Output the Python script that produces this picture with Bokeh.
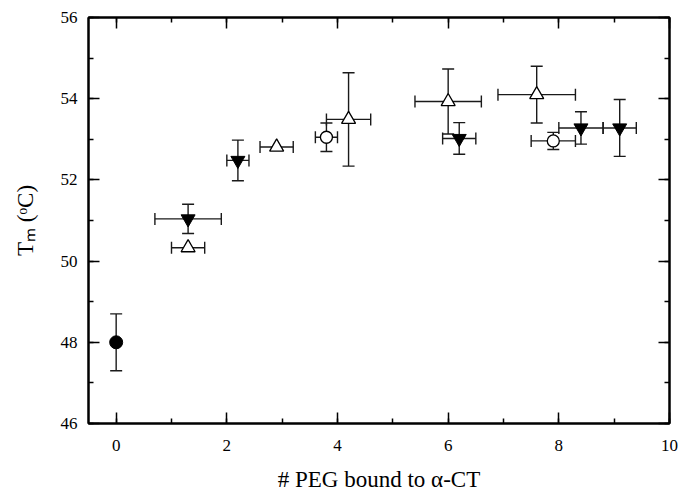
import math
from bokeh.plotting import figure
from bokeh.models import LinearAxis, SingleIntervalTicker, Range1d
from bokeh.embed import file_html
from bokeh.resources import INLINE

# ---- data ----
native_x = [0.0]
native_y = [48.0]
native_xerr = [0.0]
native_yerr = [0.7]

tri_dn_x = [1.3, 2.2, 6.2, 8.4, 9.1]
tri_dn_y = [51.04, 52.48, 53.02, 53.28, 53.28]
tri_dn_xerr = [0.6, 0.2, 0.3, 0.4, 0.3]
tri_dn_yerr = [0.36, 0.5, 0.39, 0.4, 0.7]

tri_up_x = [1.3, 2.9, 4.2, 6.0, 7.6]
tri_up_y = [50.33, 52.81, 53.49, 53.93, 54.1]
tri_up_xerr = [0.3, 0.3, 0.4, 0.6, 0.7]
tri_up_yerr = [0.0, 0.0, 1.15, 0.8, 0.7]

circ_x = [3.8, 7.9]
circ_y = [53.05, 52.96]
circ_xerr = [0.2, 0.4]
circ_yerr = [0.35, 0.21]

x_ticks_interval = 2
y_ticks_interval = 2
x_label = "# PEG bound to \u03b1-CT"
y_label = "T\u2098 (\u1d52C)"

FONT = "Liberation Serif"
W, H = 683, 497
BL, BR, BT, BB = 88, 14, 17, 74

p = figure(width=W, height=H, output_backend="svg", toolbar_location=None,
           x_range=Range1d(-0.5, 10), y_range=Range1d(46, 56),
           x_axis_location=None, y_axis_location=None,
           min_border_left=BL, min_border_right=BR, min_border_top=BT, min_border_bottom=BB)
p.grid.visible = False
p.outline_line_color = "black"
p.outline_line_width = 2
p.background_fill_color = "white"
p.border_fill_color = "white"

def make_axis(interval, labels):
    ax = LinearAxis(ticker=SingleIntervalTicker(interval=interval, num_minor_ticks=2))
    ax.axis_line_color = "black"
    ax.axis_line_width = 2
    ax.major_tick_in = 11
    ax.major_tick_out = 0
    ax.minor_tick_in = 5
    ax.minor_tick_out = 0
    ax.major_tick_line_width = 1.5
    ax.minor_tick_line_width = 1.5
    ax.major_tick_line_color = "black"
    ax.minor_tick_line_color = "black"
    if labels:
        ax.major_label_text_font = FONT
        ax.major_label_text_font_size = "17px"
        ax.major_label_text_color = "black"
        ax.axis_label_text_font = FONT
        ax.axis_label_text_font_style = "normal"
        ax.axis_label_text_color = "black"
    else:
        ax.major_label_text_font_size = "1px"
        ax.major_label_text_color = None
        ax.major_label_standoff = 0
    return ax

xb = make_axis(x_ticks_interval, True)
xb.major_label_standoff = 16
xb.axis_label = x_label
xb.axis_label_text_font_size = "23px"
xb.axis_label_standoff = 13
yl = make_axis(y_ticks_interval, True)
yl.major_label_standoff = 11
yl.axis_label = y_label
yl.axis_label_text_font_size = "23px"
yl.axis_label_standoff = 20
xt = make_axis(x_ticks_interval, False)
yr = make_axis(y_ticks_interval, False)
p.add_layout(xb, "below")
p.add_layout(yl, "left")
p.add_layout(xt, "above")
p.add_layout(yr, "right")

EC = "#1a1a1a"
LW = 1.4
CAP = 12

def errorbars(xs, ys, xerr, yerr):
    for x, y, ex, ey in zip(xs, ys, xerr, yerr):
        if ey > 0:
            p.segment(x0=[x], y0=[y - ey], x1=[x], y1=[y + ey], line_color=EC, line_width=LW)
            p.scatter(x=[x, x], y=[y - ey, y + ey], marker="dash", size=CAP, line_color=EC, line_width=LW)
        if ex > 0:
            p.segment(x0=[x - ex], y0=[y], x1=[x + ex], y1=[y], line_color=EC, line_width=LW)
            p.scatter(x=[x - ex, x + ex], y=[y, y], marker="dash", size=CAP, angle=math.pi / 2,
                      line_color=EC, line_width=LW)

errorbars(native_x, native_y, native_xerr, native_yerr)
errorbars(tri_dn_x, tri_dn_y, tri_dn_xerr, tri_dn_yerr)
errorbars(tri_up_x, tri_up_y, tri_up_xerr, tri_up_yerr)
errorbars(circ_x, circ_y, circ_xerr, circ_yerr)

p.scatter(x=native_x, y=native_y, marker="circle", size=13, fill_color="black", line_color="black")
p.scatter(x=tri_dn_x, y=tri_dn_y, marker="inverted_triangle", size=14, fill_color="black", line_color="black")
p.scatter(x=tri_up_x, y=tri_up_y, marker="triangle", size=14, fill_color="white", line_color="black", line_width=1.3)
p.scatter(x=circ_x, y=circ_y, marker="circle", size=12, fill_color="white", line_color="black", line_width=1.3)

open("out.html", "w").write(file_html(p, INLINE))
